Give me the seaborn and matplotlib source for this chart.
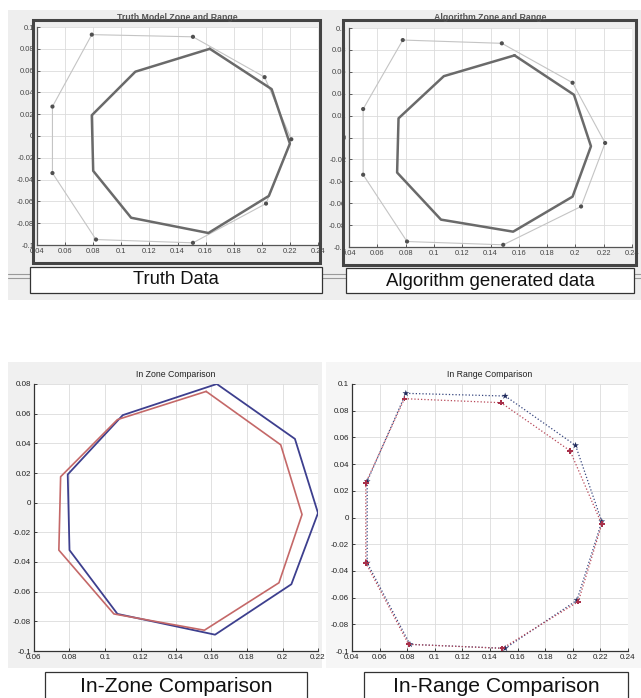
import numpy as np
import pandas as pd
import matplotlib
matplotlib.use("Agg")
import matplotlib.pyplot as plt
from matplotlib.patches import Rectangle
from matplotlib.lines import Line2D
from matplotlib.ticker import FuncFormatter, MultipleLocator
import seaborn as sns

# --- data (closed polygons, 9 vertices each) ---
truth_zone_x = [0.163, 0.207, 0.220, 0.205, 0.162, 0.107, 0.080, 0.079, 0.110]
truth_zone_y = [0.080, 0.043, -0.007, -0.055, -0.089, -0.075, -0.032, 0.019, 0.059]
algo_zone_x = [0.157, 0.199, 0.211, 0.198, 0.156, 0.105, 0.074, 0.075, 0.107]
algo_zone_y = [0.075, 0.039, -0.008, -0.054, -0.086, -0.075, -0.032, 0.0175, 0.056]

truth_range_x = [0.079, 0.151, 0.202, 0.221, 0.203, 0.151, 0.082, 0.051, 0.051]
truth_range_y = [0.093, 0.091, 0.054, -0.003, -0.062, -0.098, -0.095, -0.034, 0.027]
algo_range_x = [0.078, 0.148, 0.198, 0.221, 0.204, 0.149, 0.081, 0.050, 0.050]
algo_range_y = [0.089, 0.086, 0.050, -0.005, -0.063, -0.098, -0.095, -0.034, 0.026]

panel_titles = ["Truth Model Zone and Range", "Algorithm Zone and Range",
                "In Zone Comparison", "In Range Comparison"]
caption_labels = ["Truth Data", "Algorithm generated data",
                  "In-Zone Comparison", "In-Range Comparison"]

W, H = 641, 698


def closed(xs, ys):
    return pd.DataFrame({"x": list(xs) + [xs[0]], "y": list(ys) + [ys[0]]})


def px_axes(fig, x0, y0, x1, y1):
    ax = fig.add_axes([x0 / W, 1 - y1 / H, (x1 - x0) / W, (y1 - y0) / H])
    ax.set_zorder(2)
    ax.set_facecolor("white")
    return ax


def px_rect(fig, x0, y0, x1, y1, **kw):
    r = Rectangle((x0 / W, 1 - y1 / H), (x1 - x0) / W, (y1 - y0) / H,
                  transform=fig.transFigure, **kw)
    fig.patches.append(r)
    return r


def px_text(fig, x, y, s, **kw):
    fig.text(x / W, 1 - y / H, s, ha="center", va="center", **kw)


def matlab_fmt(v, pos):
    if abs(v) < 1e-9:
        return "0"
    return "%g" % round(v, 4)


def style_axes(ax, xlim, ylim, spine_color="#333333"):
    ax.set_xlim(*xlim)
    ax.set_ylim(*ylim)
    ax.xaxis.set_major_locator(MultipleLocator(0.02))
    ax.yaxis.set_major_locator(MultipleLocator(0.02))
    ax.xaxis.set_major_formatter(FuncFormatter(matlab_fmt))
    ax.yaxis.set_major_formatter(FuncFormatter(matlab_fmt))
    ax.grid(True, color="#dcdcdc", linewidth=0.6)
    ax.set_axisbelow(True)
    ax.tick_params(direction="in", length=2, width=0.6, labelsize=5.8,
                   colors="#222222", pad=2)
    for side in ["top", "right"]:
        ax.spines[side].set_visible(False)
    for side in ["left", "bottom"]:
        ax.spines[side].set_color(spine_color)
        ax.spines[side].set_linewidth(0.9)
    ax.set_xlabel("")
    ax.set_ylabel("")


sns.set_style("ticks")
plt.rcParams["font.family"] = ["Liberation Sans", "DejaVu Sans"]

fig = plt.figure(figsize=(W / 100, H / 100), dpi=100)
fig.patch.set_facecolor("white")

# --- backgrounds / screenshot decoration ---
px_rect(fig, 8, 10, 641, 300, facecolor="#eeeeee", edgecolor="none", zorder=-5)
px_rect(fig, 8, 362, 322, 668, facecolor="#f0f0f0", edgecolor="none", zorder=-5)
px_rect(fig, 326, 362, 641, 668, facecolor="#f6f6f6", edgecolor="none", zorder=-5)
for yy in (274, 278):
    fig.lines.append(Line2D([8 / W, 1], [1 - yy / H, 1 - yy / H],
                            transform=fig.transFigure, color="#9a9a9a", lw=0.8, zorder=-4))

# --- top panels: zone (thick) and range (thin with markers) ---
top_specs = [
    (37, 27, 318, 245, truth_zone_x, truth_zone_y, truth_range_x, truth_range_y),
    (349, 28, 632, 247, algo_zone_x, algo_zone_y, algo_range_x, algo_range_y),
]
for i, (x0, y0, x1, y1, zx, zy, rx, ry) in enumerate(top_specs):
    ax = px_axes(fig, x0, y0, x1, y1)
    zone = closed(zx, zy)
    rng = closed(rx, ry)
    sns.lineplot(data=rng, x="x", y="y", sort=False, estimator=None, ax=ax,
                 color="#c4c4c4", linewidth=0.8)
    sns.scatterplot(x=rx, y=ry, ax=ax, color="#505050", marker="o", s=9,
                    edgecolor="none", zorder=4)
    sns.lineplot(data=zone, x="x", y="y", sort=False, estimator=None, ax=ax,
                 color="#6a6a6a", linewidth=1.8)
    style_axes(ax, (0.04, 0.24), (-0.1, 0.1), spine_color="#555555")
    ax.tick_params(labelsize=5.4, colors="#444444")

# thick screenshot frames and titles over the top border
px_rect(fig, 33, 20, 320, 263, facecolor="none", edgecolor="#444444", lw=2.2, zorder=5)
px_rect(fig, 343, 20, 636, 265, facecolor="none", edgecolor="#444444", lw=2.2, zorder=5)
px_text(fig, 177, 17, panel_titles[0], fontsize=6.3, fontweight="bold", color="#555555", zorder=6)
px_text(fig, 490, 17, panel_titles[1], fontsize=6.3, fontweight="bold", color="#555555", zorder=6)

# --- bottom left: zone comparison ---
ax = px_axes(fig, 34, 384, 318, 651)
sns.lineplot(data=closed(truth_zone_x, truth_zone_y), x="x", y="y", sort=False,
             estimator=None, ax=ax, color="#3d3f8e", linewidth=1.3)
sns.lineplot(data=closed(algo_zone_x, algo_zone_y), x="x", y="y", sort=False,
             estimator=None, ax=ax, color="#c46868", linewidth=1.2)
style_axes(ax, (0.06, 0.22), (-0.1, 0.08))
ax.set_title(panel_titles[2], fontsize=6.3, pad=5, color="#222222")

# --- bottom right: range comparison ---
ax = px_axes(fig, 352, 384, 628, 651)
sns.lineplot(data=closed(truth_range_x, truth_range_y), x="x", y="y", sort=False,
             estimator=None, ax=ax, color="#36457e", linewidth=0.9, linestyle=":")
sns.lineplot(data=closed(algo_range_x, algo_range_y), x="x", y="y", sort=False,
             estimator=None, ax=ax, color="#b84858", linewidth=0.9, linestyle=":")
sns.scatterplot(x=truth_range_x, y=truth_range_y, ax=ax, color="#1f2a5c",
                marker="*", s=26, edgecolor="none", zorder=4)
sns.scatterplot(x=algo_range_x, y=algo_range_y, ax=ax, color="#a8304a",
                marker="P", s=16, edgecolor="none", zorder=4)
style_axes(ax, (0.04, 0.24), (-0.1, 0.1))
ax.set_title(panel_titles[3], fontsize=6.3, pad=5, color="#222222")

# --- caption boxes ---
boxes = [
    (30, 267, 322, 293, 13.2, 280),
    (346, 268, 634, 293, 13.4, 281),
    (45, 672, 307, 705, 15.2, 687),
    (364, 672, 628, 705, 15.2, 687),
]
for (x0, y0, x1, y1, fs, ty), label in zip(boxes, caption_labels):
    px_rect(fig, x0, y0, x1, y1, facecolor="white", edgecolor="#333333", lw=0.9, zorder=6)
    fig.text((x0 + x1) / 2 / W, 1 - ty / H, label, ha="center", va="center",
             fontsize=fs, color="#111111", zorder=7)

fig.savefig("out.png", dpi=100)
